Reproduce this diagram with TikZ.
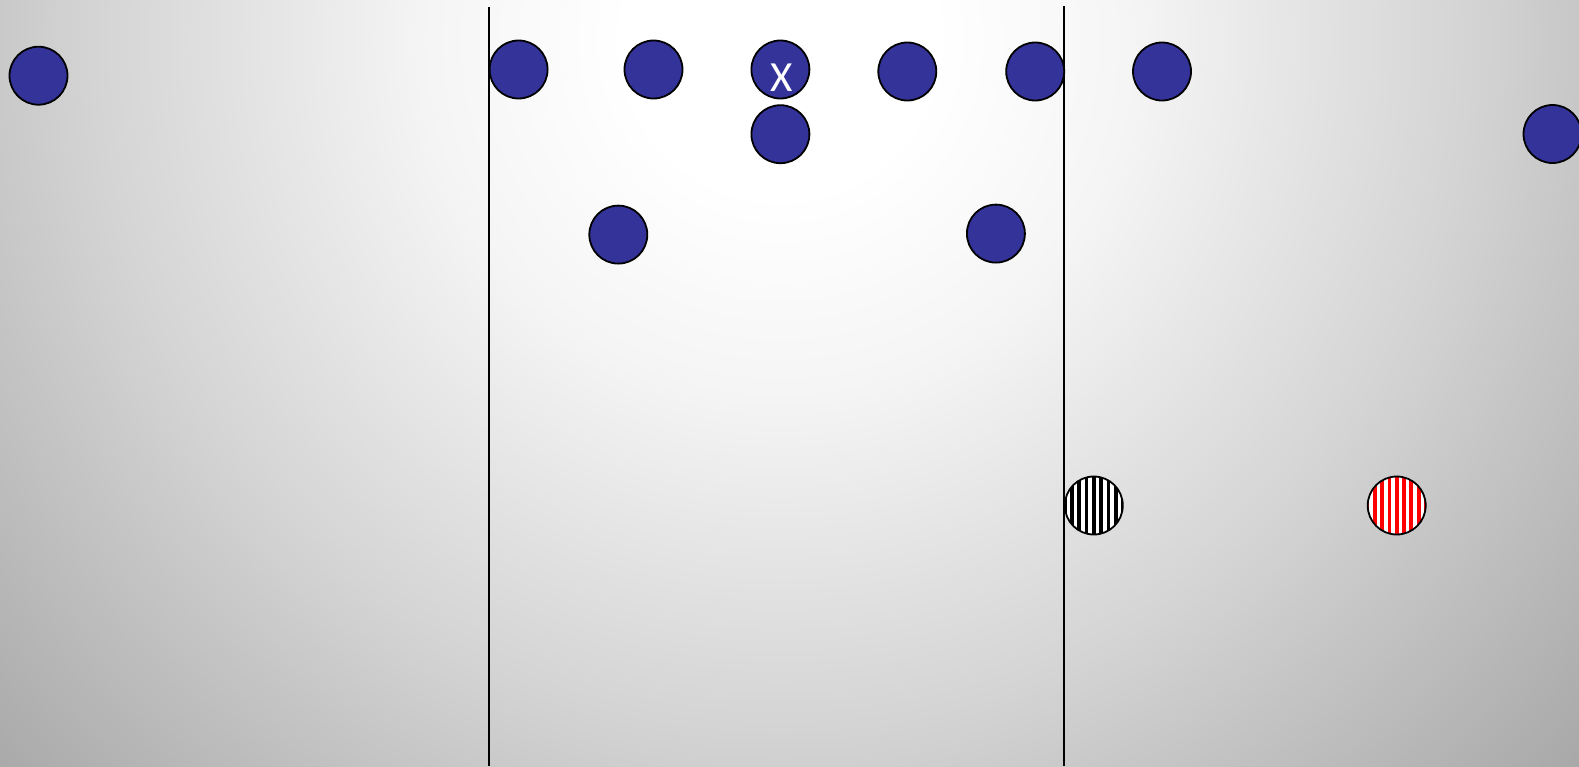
\documentclass[tikz,border=0pt]{standalone}
\usepackage{fontspec}
\newfontfamily\xfont{Carlito}
\definecolor{dotblue}{HTML}{333399}
\pgfdeclareradialshading{bgshade}{\pgfpoint{0bp}{0bp}}{color(0bp)=(white); color(3.5bp)=(white); color(8bp)=(black!4); color(15.7bp)=(black!17); color(18.2bp)=(black!22); color(25bp)=(black!35); color(50bp)=(black!35)}
\begin{document}
\begin{tikzpicture}[x=1pt,y=-1pt,
  dot/.style={circle,draw=black,line width=1.8pt,fill=dotblue,minimum size=58pt,inner sep=0pt},
  striped/.style={circle,draw=black,line width=1.8pt,fill=white,minimum size=58pt,inner sep=0pt,
    path picture={\foreach \i in {-4,...,4}{\fill[#1] ([xshift=\i*7.3pt-1.9pt]path picture bounding box.south) rectangle ([xshift=\i*7.3pt+1.9pt]path picture bounding box.north);}}},
  divider/.style={line width=2pt,black},
  xlabel/.style={text=white,font=\xfont\fontsize{43}{45}\selectfont,inner sep=0pt}]
\useasboundingbox (0,0) rectangle (1579,766);
\begin{scope}
  \clip (0,0) rectangle (1579,766);
  \shade[shading=bgshade] (780,40) circle (1100pt);
\end{scope}
% dividers
\coordinate (l1t) at (489.4,7);
\coordinate (l1b) at (489.4,766);
\coordinate (l2t) at (1064.4,6);
\coordinate (l2b) at (1064.4,766);
\draw[divider] (l1t) -- (l1b);
\draw[divider] (l2t) -- (l2b);
% dots
\node[dot] (d1) at (38.5,75.7) {};
\node[dot] (d2) at (518.6,69.5) {};
\node[dot] (d3) at (653.5,69.5) {};
\node[dot] (d4) at (780.4,69.5) {};
\node[xlabel] (xl) at (781.5,77.5) {X};
\node[dot] (d5) at (780.4,134.2) {};
\node[dot] (d6) at (907.3,71.5) {};
\node[dot] (d7) at (1035.2,71.5) {};
\node[dot] (d8) at (1162,71.5) {};
\node[dot] (d9) at (1552.5,134) {};
\node[dot] (d10) at (618.3,234.6) {};
\node[dot] (d11) at (995.9,233.6) {};
% striped
\node[striped=black] (s1) at (1093.8,505.5) {};
\node[striped=red] (s2) at (1396.7,505.5) {};
\end{tikzpicture}
\end{document}
